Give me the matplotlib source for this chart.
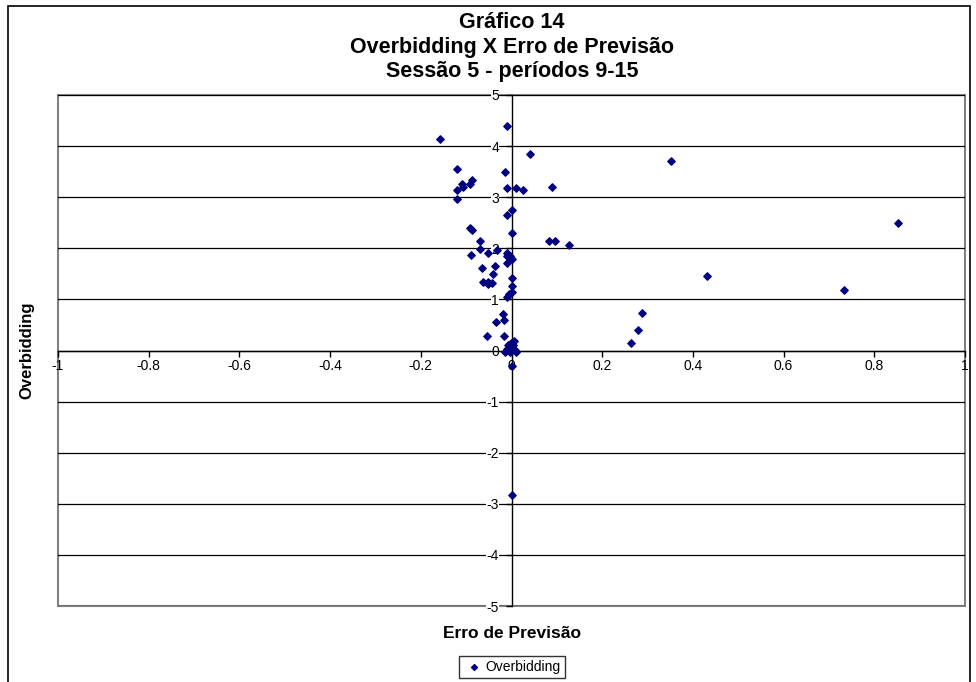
import numpy as np
import matplotlib.pyplot as plt
from matplotlib.patches import Rectangle

# dados (erro de previsão, overbidding)
erro = [-0.157, -0.009, 0.041, -0.121, -0.015, -0.110, -0.121, -0.108, -0.092, -0.087,
        -0.009, 0.010, 0.025, 0.089, -0.121, 0.000, -0.009, -0.092, -0.087, 0.000,
        -0.070, 0.082, 0.097, 0.127, 0.351, 0.852, 0.430, 0.733, 0.288, 0.280, 0.264,
        -0.070, -0.090, -0.051, -0.033, -0.009, -0.003, -0.009, 0.000, -0.009,
        -0.036, -0.066, -0.041, 0.000, -0.062, -0.051, -0.044, -0.052, 0.000,
        0.000, -0.005, -0.009, -0.019, -0.017, -0.034, -0.053, -0.016, 0.006,
        -0.002, -0.007, 0.004, 0.000, -0.011, -0.014, 0.008, -0.003, 0.011,
        0.000, 0.000]
overbidding = [4.13, 4.39, 3.855, 3.55, 3.49, 3.255, 3.15, 3.20, 3.255, 3.33,
               3.18, 3.18, 3.145, 3.19, 2.955, 2.74, 2.65, 2.40, 2.35, 2.29,
               2.14, 2.14, 2.14, 2.06, 3.705, 2.50, 1.453, 1.19, 0.742, 0.398, 0.145,
               1.99, 1.87, 1.91, 1.97, 1.90, 1.85, 1.84, 1.785, 1.71,
               1.655, 1.61, 1.50, 1.41, 1.35, 1.335, 1.315, 1.30, 1.26,
               1.15, 1.11, 1.055, 0.72, 0.60, 0.56, 0.29, 0.29, 0.195,
               0.145, 0.10, 0.11, 0.047, 0.033, -0.02, 0.014, -0.02, -0.02,
               -0.30, -2.82]

xticks = [-1, -0.8, -0.6, -0.4, -0.2, 0, 0.2, 0.4, 0.6, 0.8, 1]
yticks = [-5, -4, -3, -2, -1, 0, 1, 2, 3, 4, 5]

plt.rcParams['font.family'] = ['Liberation Sans', 'DejaVu Sans']

fig = plt.figure(figsize=(9.76, 6.82), dpi=100)
fig.patches.append(Rectangle((8/976, -0.01), 962/976, 1 - 6/682 + 0.01, transform=fig.transFigure,
                             fill=False, edgecolor='black', lw=1.2))

ax = fig.add_axes([58/976, 1 - 606/682, 907/976, 511/682])
ax.set_xlim(-1, 1)
ax.set_ylim(-5, 5)

# linhas de grade horizontais
for yv in yticks:
    ax.axhline(yv, color='black', lw=0.9, zorder=1)

ax.scatter(erro, overbidding, marker='D', s=14, color='#000080', zorder=3, label='Overbidding')

# eixos cruzando em zero
for s in ['top', 'right']:
    ax.spines[s].set_visible(False)
ax.spines['left'].set_position(('data', 0))
ax.spines['bottom'].set_position(('data', 0))
ax.spines['left'].set_linewidth(1)
ax.spines['bottom'].set_linewidth(1)
ax.add_patch(Rectangle((0, 0), 1, 1, transform=ax.transAxes, fill=False,
                       edgecolor='#808080', lw=1.5, zorder=0.5, clip_on=False))

ax.set_xticks(xticks)
ax.set_xticklabels([f'{v:g}' for v in xticks])
ax.set_yticks(yticks)
ax.set_yticklabels([f'{v:g}' for v in yticks])
ax.tick_params(axis='x', direction='out', length=4, width=1, labelsize=10, pad=2)
ax.tick_params(axis='y', direction='out', length=4, width=1, labelsize=10, pad=5)
for lab in ax.get_yticklabels():
    lab.set_bbox(dict(facecolor='white', edgecolor='none', pad=0.2))

fig.text(512/976, 1 - 22/682, 'Gráfico 14', ha='center', va='center', fontsize=15.5,
         fontweight='bold')
fig.text(512/976, 1 - 47/682, 'Overbidding X Erro de Previsão', ha='center', va='center',
         fontsize=15.5, fontweight='bold')
fig.text(512/976, 1 - 72/682, 'Sessão 5 - períodos 9-15', ha='center', va='center',
         fontsize=15.5, fontweight='bold')

fig.text(512/976, 1 - 634/682, 'Erro de Previsão', ha='center', va='center',
         fontsize=12.5, fontweight='bold')
fig.text(27/976, 1 - 350/682, 'Overbidding', ha='center', va='center', rotation=90,
         fontsize=12, fontweight='bold')

leg = ax.legend(loc='center', bbox_to_anchor=(512/976, 1 - 667/682), bbox_transform=fig.transFigure,
                fontsize=10, frameon=True, fancybox=False, edgecolor='black',
                handletextpad=0.1, borderpad=0.3, markerscale=0.8, handlelength=1.5)
leg.get_frame().set_linewidth(1)

fig.savefig('out.png', dpi=100)
